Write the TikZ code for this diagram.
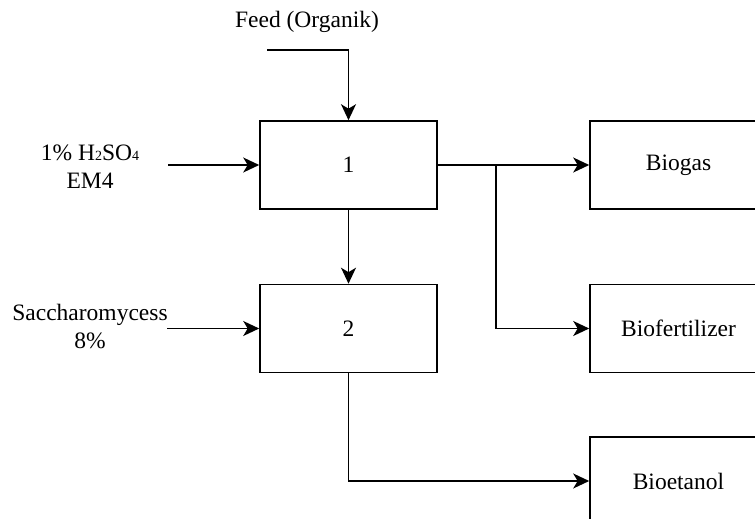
\documentclass[tikz,border=0pt]{standalone}
\usepackage{fontspec}
\setmainfont{Liberation Serif}
\usetikzlibrary{arrows.meta}
\begin{document}
\begin{tikzpicture}[x=1pt,y=-1pt,
  every node/.style={font=\rmfamily\fontsize{23.5}{28}\selectfont},
  blk/.style={draw, line width=1.6pt, minimum width=177pt, minimum height=88pt, inner sep=0pt},
  flow/.style={line width=1.6pt, -{Stealth[length=16pt,width=15pt,inset=4.5pt]}},
  lbl/.style={align=center, inner sep=0pt}]
\useasboundingbox (0,0) rectangle (755,519);
\clip (0,0) rectangle (755,519);
\node[blk] (b1) at (348.5,165) {1};
\node[blk] (b2) at (348.5,328.5) {2};
\node[blk] (bg) at (678.5,165) {Biogas};
\node[blk] (bf) at (678.5,328.5) {Biofertilizer};
\node[blk] (be) at (678.5,481) {Bioetanol};
\node[lbl] (tfeed) at (307,22) {Feed (Organik)};
\node[lbl] (tacid) at (90,167) {1\% H{\fontsize{14}{14}\selectfont 2}SO{\fontsize{14}{14}\selectfont 4}\\EM4};
\node[lbl] (tsac) at (90,326) {Saccharomycess\\8\%};
\coordinate (f) at (267,50);
\coordinate (a) at (168,165);
\coordinate (s) at (167,328.5);
\coordinate (j) at (496,165);
\draw[flow] (f) -| (b1.north);
\draw[flow] (a) -- (b1.west);
\draw[flow] (s) -- (b2.west);
\draw[flow] (b1.east) -- (bg.west);
\draw[flow] (j) |- (bf.west);
\draw[flow] (b1.south) -- (b2.north);
\draw[flow] (b2.south) |- (be.west);
\end{tikzpicture}
\end{document}
